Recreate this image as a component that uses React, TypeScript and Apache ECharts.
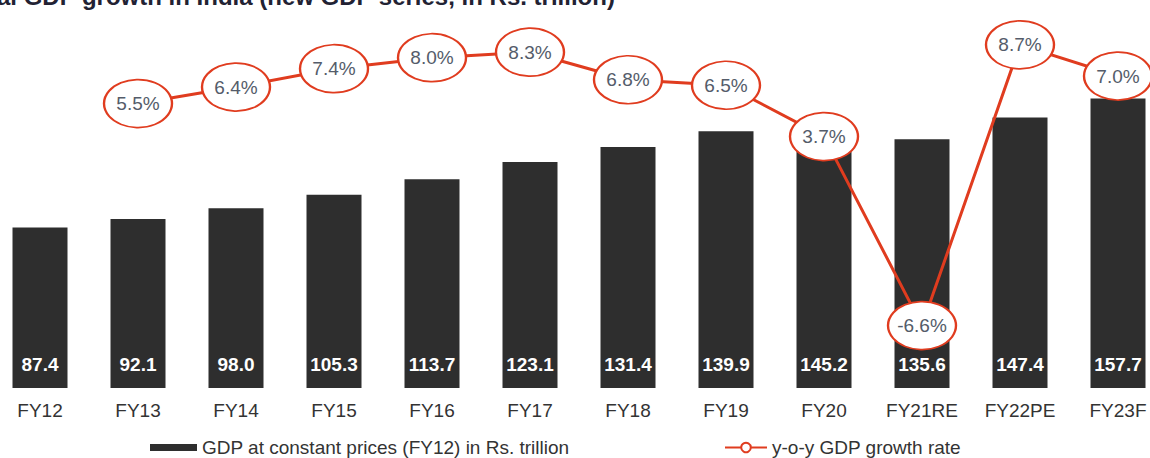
import React, { useEffect, useRef } from "react";
import * as echarts from "echarts";

const categories = ["FY12", "FY13", "FY14", "FY15", "FY16", "FY17", "FY18", "FY19", "FY20", "FY21RE", "FY22PE", "FY23F"];
const gdpValues = [87.4, 92.1, 98.0, 105.3, 113.7, 123.1, 131.4, 139.9, 145.2, 135.6, 147.4, 157.7];
const growthValues: (number | null)[] = [null, 5.5, 6.4, 7.4, 8.0, 8.3, 6.8, 6.5, 3.7, -6.6, 8.7, 7.0];
const barSeriesName = "GDP at constant prices (FY12) in Rs. trillion";
const lineSeriesName = "y-o-y GDP growth rate";
const titleText = "al GDP growth in India (new GDP series, in Rs. trillion)";

// chart canvas is shifted 9px left of the page so that categories line up with the reference
const OFFSET = 9;

export default function App() {
  const ref = useRef<HTMLDivElement>(null);
  useEffect(() => {
    if (!ref.current) return;
    const chart = echarts.init(ref.current, undefined, { renderer: "svg" });
    const font = "'Liberation Sans', Arial, sans-serif";
    chart.setOption({
      animation: false,
      backgroundColor: "#ffffff",
      textStyle: { fontFamily: font },
      graphic: [
        {
          type: "text",
          x: OFFSET - 3,
          y: -16,
          style: {
            text: titleText,
            font: "bold 24px 'Liberation Sans', Arial, sans-serif",
            fill: "#222233",
            textVerticalAlign: "top",
          },
        },
      ],
      legend: [
        {
          data: [barSeriesName],
          left: OFFSET + 150,
          top: 438,
          padding: 0,
          itemWidth: 47,
          itemHeight: 7,
          itemGap: 5,
          icon: "rect",
          textStyle: { fontSize: 19, color: "#333333", fontFamily: font },
        },
        {
          data: [lineSeriesName],
          left: OFFSET + 724,
          top: 438,
          padding: 0,
          itemWidth: 42,
          itemHeight: 12,
          textStyle: { fontSize: 19, color: "#333333", fontFamily: font },
        },
      ],
      grid: { left: 0, right: 0, top: 21, bottom: 70, containLabel: false },
      xAxis: {
        type: "category",
        data: categories,
        axisLine: { show: false },
        axisTick: { show: false },
        axisLabel: { fontSize: 19, color: "#333333", margin: 13, fontFamily: font },
      },
      yAxis: [
        { type: "value", min: 0, max: 200, show: false, splitLine: { show: false } },
        { type: "value", min: -10, max: 10, show: false, splitLine: { show: false } },
      ],
      series: [
        {
          name: barSeriesName,
          type: "bar",
          data: gdpValues,
          barWidth: 55,
          itemStyle: { color: "#2e2e2e" },
          label: {
            show: true,
            position: "insideBottom",
            distance: 14,
            color: "#ffffff",
            fontSize: 19,
            fontWeight: "bold",
            fontFamily: font,
            formatter: (p: any) => p.value.toFixed(1),
          },
        },
        {
          name: lineSeriesName,
          type: "line",
          yAxisIndex: 1,
          data: growthValues,
          connectNulls: false,
          lineStyle: { color: "#e03c1f", width: 3 },
          itemStyle: { color: "#ffffff", borderColor: "#e03c1f", borderWidth: 2 },
          symbol: "circle",
          symbolSize: [68, 48],
          z: 5,
          label: {
            show: true,
            position: "inside",
            color: "#545c6a",
            fontSize: 19,
            fontFamily: font,
            formatter: (p: any) => p.value.toFixed(1) + "%",
          },
        },
      ],
    });
    return () => chart.dispose();
  }, []);
  return (
    <div style={{ position: "absolute", left: 0, top: 0, width: 1150, height: 458, overflow: "hidden" }}>
      <div
        ref={ref}
        style={{ position: "absolute", left: -OFFSET, top: 0, width: 1176, height: 458 }}
      />
    </div>
  );
}
